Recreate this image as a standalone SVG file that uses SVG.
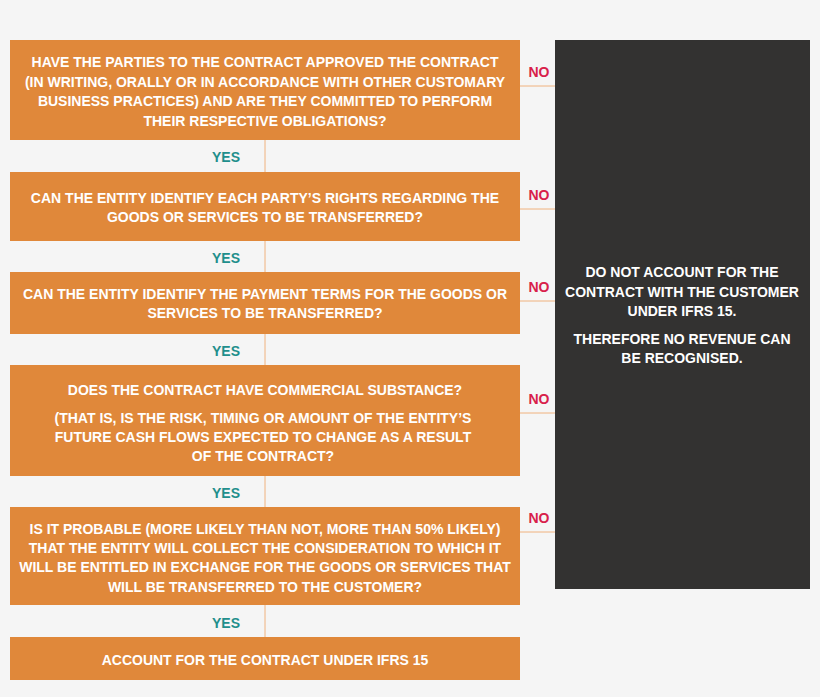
<svg xmlns="http://www.w3.org/2000/svg" width="820" height="697" viewBox="0 0 820 697">
<style>
.box{fill:#e0883a}
.dark{fill:#333231}
.t{font-family:"Liberation Sans",Arial,sans-serif;font-weight:bold;font-size:14px;fill:#ffffff;text-anchor:middle}
.yes{font-family:"Liberation Sans",Arial,sans-serif;font-weight:bold;font-size:14px;fill:#1f8f8c;text-anchor:middle}
.no{font-family:"Liberation Sans",Arial,sans-serif;font-weight:bold;font-size:14px;fill:#d8204a;text-anchor:middle}
.ln{stroke:#f0b27e;stroke-width:1;fill:none}
</style>
<rect width="820" height="697" fill="#f5f5f5"/>
<g id="connectors">
<path class="ln" d="M265 140V172M265 241V272M265 334V365M265 476V507M265 605V637"/>
<path class="ln" d="M520 86H555M520 209H555M520 301H555M520 413H555M520 532H555"/>
<text class="yes" x="226" y="162">YES</text>
<text class="yes" x="226" y="263">YES</text>
<text class="yes" x="226" y="356">YES</text>
<text class="yes" x="226" y="498">YES</text>
<text class="yes" x="226" y="628">YES</text>
<text class="no" x="539" y="77">NO</text>
<text class="no" x="539" y="200">NO</text>
<text class="no" x="539" y="292">NO</text>
<text class="no" x="539" y="404">NO</text>
<text class="no" x="539" y="523">NO</text>
</g>
<g id="q1">
<rect class="box" x="10" y="40" width="510" height="100"/>
<text class="t" x="265" y="67">HAVE THE PARTIES TO THE CONTRACT APPROVED THE CONTRACT</text>
<text class="t" x="265" y="86.5">(IN WRITING, ORALLY OR IN ACCORDANCE WITH OTHER CUSTOMARY</text>
<text class="t" x="265" y="106">BUSINESS PRACTICES) AND ARE THEY COMMITTED TO PERFORM</text>
<text class="t" x="265" y="126">THEIR RESPECTIVE OBLIGATIONS?</text>
</g>
<g id="q2">
<rect class="box" x="10" y="172" width="510" height="69"/>
<text class="t" x="265" y="203">CAN THE ENTITY IDENTIFY EACH PARTY’S RIGHTS REGARDING THE</text>
<text class="t" x="265" y="222">GOODS OR SERVICES TO BE TRANSFERRED?</text>
</g>
<g id="q3">
<rect class="box" x="10" y="272" width="510" height="62"/>
<text class="t" x="265" y="299">CAN THE ENTITY IDENTIFY THE PAYMENT TERMS FOR THE GOODS OR</text>
<text class="t" x="265" y="318">SERVICES TO BE TRANSFERRED?</text>
</g>
<g id="q4">
<rect class="box" x="10" y="365" width="510" height="111"/>
<text class="t" x="265" y="395">DOES THE CONTRACT HAVE COMMERCIAL SUBSTANCE?</text>
<text class="t" x="263" y="423">(THAT IS, IS THE RISK, TIMING OR AMOUNT OF THE ENTITY’S</text>
<text class="t" x="263" y="442">FUTURE CASH FLOWS EXPECTED TO CHANGE AS A RESULT</text>
<text class="t" x="263" y="461">OF THE CONTRACT?</text>
</g>
<g id="q5">
<rect class="box" x="10" y="507" width="510" height="98"/>
<text class="t" x="265" y="533.5">IS IT PROBABLE (MORE LIKELY THAN NOT, MORE THAN 50% LIKELY)</text>
<text class="t" x="265" y="553">THAT THE ENTITY WILL COLLECT THE CONSIDERATION TO WHICH IT</text>
<text class="t" x="265" y="572">WILL BE ENTITLED IN EXCHANGE FOR THE GOODS OR SERVICES THAT</text>
<text class="t" x="265" y="591.5">WILL BE TRANSFERRED TO THE CUSTOMER?</text>
</g>
<g id="result-yes">
<rect class="box" x="10" y="637" width="510" height="43"/>
<text class="t" x="265" y="665">ACCOUNT FOR THE CONTRACT UNDER IFRS 15</text>
</g>
<g id="result-no">
<rect class="dark" x="555" y="40" width="255" height="549"/>
<text class="t" x="682" y="277">DO NOT ACCOUNT FOR THE</text>
<text class="t" x="682" y="297">CONTRACT WITH THE CUSTOMER</text>
<text class="t" x="682" y="316">UNDER IFRS 15.</text>
<text class="t" x="682" y="344">THEREFORE NO REVENUE CAN</text>
<text class="t" x="682" y="363">BE RECOGNISED.</text>
</g>
</svg>
